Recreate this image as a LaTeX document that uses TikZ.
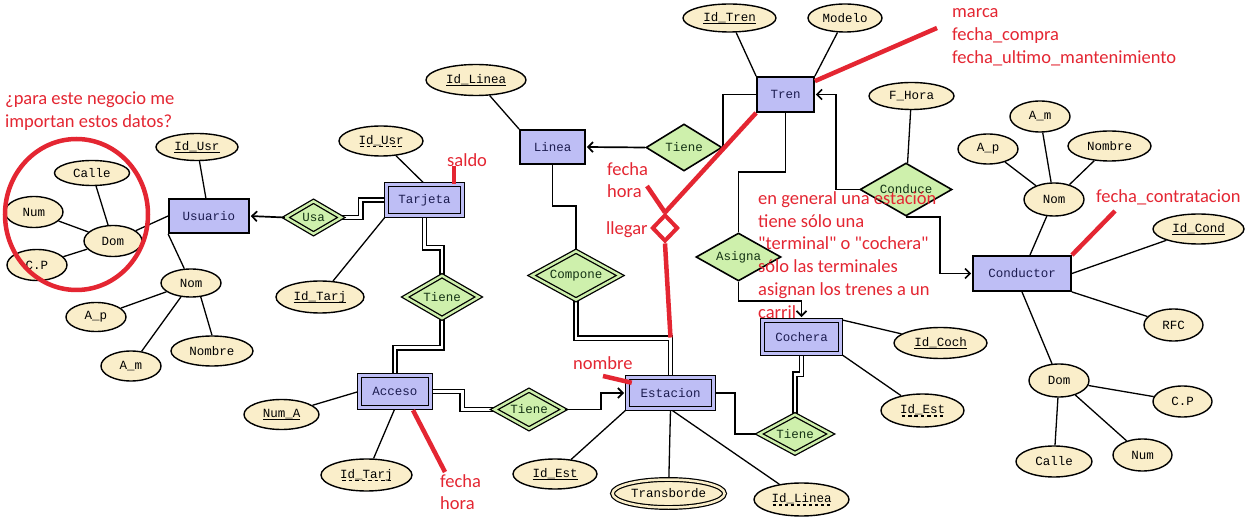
\documentclass[tikz,border=0pt]{standalone}
\usepackage{fontspec}
\usetikzlibrary{shapes.geometric,arrows.meta,calc}
\newfontfamily\monof{Liberation Mono}
\newfontfamily\annf{Carlito}
% solid underline for keys, dashed underline for partial keys
\newcommand\keyul[1]{{\setbox0=\hbox{#1}\rlap{\vrule height -1.6pt depth 3.0pt width \wd0}\box0}}
\newcommand\pkeyul[1]{{\setbox0=\hbox{#1}\rlap{\hbox to \wd0{\xleaders\hbox to 6pt{\hss\vrule height -1.6pt depth 3.0pt width 3.5pt\hss}\hfill}}\box0}}
\definecolor{entfill}{RGB}{190,190,245}
\definecolor{attrfill}{RGB}{250,238,202}
\definecolor{relfill}{RGB}{206,240,172}
\definecolor{enttext}{RGB}{28,28,80}
\definecolor{reltext}{RGB}{20,50,20}
\definecolor{annred}{RGB}{228,38,50}
\pgfdeclarelayer{bg}
\pgfsetlayers{bg,main}
\tikzset{
  lbl/.style={font=\monof\fontsize{12.5}{14}\selectfont},
  ent/.style={lbl, rectangle, draw, line width=1.8pt, fill=entfill, inner sep=0pt, text=enttext},
  went/.style={ent, line width=1.5pt, double=entfill, double distance=2.4pt},
  rel/.style={lbl, diamond, aspect=1.7, draw, line width=1.6pt, fill=relfill, inner sep=0pt, text=reltext},
  wrel/.style={rel, line width=1.3pt, double=relfill, double distance=2.4pt},
  attr/.style={lbl, ellipse, draw, line width=1.4pt, fill=attrfill, inner sep=0pt, text=black},
  mattr/.style={attr, line width=1.2pt, double=attrfill, double distance=2.5pt},
  conn/.style={line width=1.7pt},
  aconn/.style={line width=1.3pt},
  dbl/.style={line width=1.5pt, double=white, double distance=2.8pt},
  arr/.style={conn, -{Straight Barb[length=5pt,width=10pt]}},
  redl/.style={draw=annred, line width=4.5pt},
  ann/.style={font=\annf\fontsize{18.5}{23}\selectfont, text=annred, anchor=base west, inner sep=0pt},
}
\begin{document}
\begin{tikzpicture}[x=1pt,y=-1pt]
\begin{pgfonlayer}{bg}
  \fill[white] (0,0) rectangle (1248,521);
\end{pgfonlayer}
\useasboundingbox (0,0) rectangle (1248,521);

% ---------- entities ----------
\node[ent,  minimum width=80pt, minimum height=34pt] (usuario)   at (209,216)    {Usuario};
\node[went, minimum width=76pt, minimum height=31pt] (tarjeta)   at (424.5,200)  {Tarjeta};
\node[ent,  minimum width=65pt, minimum height=34pt] (linea)     at (552.5,147)  {Linea};
\node[ent,  minimum width=57pt, minimum height=35pt] (tren)      at (785.5,94.5) {Tren};
\node[ent,  minimum width=98pt, minimum height=35pt] (conductor) at (1022,273.5) {Conductor};
\node[went, minimum width=78pt, minimum height=33pt] (cochera)   at (801.5,337)  {Cochera};
\node[went, minimum width=86pt, minimum height=31pt] (estacion)  at (670.5,393)  {Estacion};
\node[went, minimum width=71pt, minimum height=32pt] (acceso)    at (395,391.5)  {Acceso};

% ---------- relationships ----------
\node[wrel, minimum width=56pt, minimum height=33pt] (usa)     at (313.5,217.5) {Usa};
\node[wrel, minimum width=74pt, minimum height=43pt] (tieneTA) at (442,297)     {Tiene};
\node[wrel, minimum width=70pt, minimum height=39pt] (tieneAE) at (529,409.5)   {Tiene};
\node[wrel, minimum width=72pt, minimum height=39pt] (tieneEC) at (795,434)     {Tiene};
\node[wrel, minimum width=89pt, minimum height=49pt] (compone) at (576,275.5)   {Compone};
\node[rel,  minimum width=76pt, minimum height=47pt] (tieneLT) at (684,147.5)   {Tiene};
\node[rel,  minimum width=85pt, minimum height=48pt] (asigna)  at (738.5,257)   {Asigna};
\node[rel,  minimum width=92pt, minimum height=53pt] (conduce) at (906,189.5)   {Conduce};

% ---------- attributes of Usuario ----------
\node[attr, minimum width=82pt, minimum height=27pt] (idusrU)  at (197,147) {\keyul{Id\_Usr}};
\node[attr, minimum width=75pt, minimum height=25pt] (calleU)  at (92,173)  {Calle};
\node[attr, minimum width=58pt, minimum height=31pt] (numU)    at (34,212)  {Num};
\node[attr, minimum width=58pt, minimum height=31pt] (domU)    at (113,241) {Dom};
\node[attr, minimum width=60pt, minimum height=31pt] (cpU)     at (37,265)  {C.P};
\node[attr, minimum width=60pt, minimum height=28pt] (nomU)    at (191,283) {Nom};
\node[attr, minimum width=60pt, minimum height=29pt] (apU)     at (96,317)  {A\_p};
\node[attr, minimum width=60pt, minimum height=30pt] (amU)     at (131,366) {A\_m};
\node[attr, minimum width=82pt, minimum height=30pt] (nombreU) at (212,351) {Nombre};

% ---------- attributes of Tarjeta and Acceso ----------
\node[attr, minimum width=84pt, minimum height=30pt] (idusrT)  at (381,141)     {\pkeyul{Id\_Usr}};
\node[attr, minimum width=88pt, minimum height=32pt] (idtarjT) at (320,297)     {\keyul{Id\_Tarj}};
\node[attr, minimum width=75pt, minimum height=30pt] (numA)    at (281.5,414.5) {\keyul{Num\_A}};
\node[attr, minimum width=91pt, minimum height=32pt] (idtarjA) at (366.5,475)   {\pkeyul{Id\_Tarj}};

% ---------- attributes of Linea, Tren, Conduce ----------
\node[attr, minimum width=100pt, minimum height=31pt] (idlineaL) at (476,80)     {\keyul{Id\_Linea}};
\node[attr, minimum width=93pt,  minimum height=28pt] (idtren)   at (729.5,18)   {\keyul{Id\_Tren}};
\node[attr, minimum width=74pt,  minimum height=28pt] (modelo)   at (845,18)     {Modelo};
\node[attr, minimum width=85pt,  minimum height=27pt] (fhora)    at (911.5,96)   {F\_Hora};

% ---------- attributes of Conductor ----------
\node[attr, minimum width=60pt, minimum height=33pt] (nomC)    at (1054,199.5)   {Nom};
\node[attr, minimum width=60pt, minimum height=31pt] (amC)     at (1040,116.5)   {A\_m};
\node[attr, minimum width=60pt, minimum height=30pt] (apC)     at (988,149)      {A\_p};
\node[attr, minimum width=83pt, minimum height=30pt] (nombreC) at (1109.5,146)   {Nombre};
\node[attr, minimum width=91pt, minimum height=30pt] (idcond)  at (1198.5,229)   {\keyul{Id\_Cond}};
\node[attr, minimum width=59pt, minimum height=32pt] (rfc)     at (1173.5,325)   {RFC};
\node[attr, minimum width=60pt, minimum height=33pt] (domC)    at (1059,380.5)   {Dom};
\node[attr, minimum width=59pt, minimum height=31pt] (cpC)     at (1182.5,401.5) {C.P};
\node[attr, minimum width=76pt, minimum height=31pt] (calleC)  at (1054,461.5)   {Calle};
\node[attr, minimum width=59pt, minimum height=32pt] (numC)    at (1142.5,455)   {Num};

% ---------- attributes of Cochera and Estacion ----------
\node[attr,  minimum width=93pt,  minimum height=31pt] (idcoch)     at (940.5,343)   {\keyul{Id\_Coch}};
\node[attr,  minimum width=83pt,  minimum height=33pt] (idestC)     at (922.5,410.5) {\pkeyul{Id\_Est}};
\node[attr,  minimum width=84pt,  minimum height=30pt] (idestE)     at (555,474)     {\keyul{Id\_Est}};
\node[mattr, minimum width=112pt, minimum height=28pt] (transborde) at (668.5,493.5) {Transborde};
\node[attr,  minimum width=95pt,  minimum height=33pt] (idlineaE)   at (801.5,499.5) {\pkeyul{Id\_Linea}};

% ---------- connectors (behind the shapes) ----------
\begin{pgfonlayer}{bg}
  % attribute links
  \draw[aconn] (usuario) -- (idusrU);
  \draw[aconn] (usuario.west) -- (domU);
  \draw[aconn] (usuario.south west) -- (nomU);
  \draw[aconn] (domU) -- (calleU);
  \draw[aconn] (domU) -- (numU);
  \draw[aconn] (domU) -- (cpU);
  \draw[aconn] (nomU) -- (apU);
  \draw[aconn] (nomU) -- (amU);
  \draw[aconn] (nomU.-55) -- (nombreU.north);
  \draw[aconn] (tarjeta.north) -- (idusrT);
  \draw[aconn] (tarjeta.south west) -- (idtarjT);
  \draw[aconn] (acceso.west) -- (numA);
  \draw[aconn] (acceso.south) -- (idtarjA);
  \draw[aconn] (linea.north west) -- (idlineaL);
  \draw[aconn] (tren.north west) -- (idtren);
  \draw[aconn] (tren.north east) -- (modelo);
  \draw[aconn] (fhora) -- (conduce);
  \draw[aconn] (conductor) -- (nomC);
  \draw[aconn] (nomC) -- (amC);
  \draw[aconn] (nomC) -- (apC);
  \draw[aconn] (nomC) -- (nombreC);
  \draw[aconn] (conductor.east) -- (idcond);
  \draw[aconn] (conductor.south east) -- (rfc);
  \draw[aconn] (conductor.south) -- (domC);
  \draw[aconn] (domC) -- (cpC);
  \draw[aconn] (domC) -- (numC);
  \draw[aconn] (domC) -- (calleC);
  \draw[aconn] (cochera.north east) -- (idcoch);
  \draw[aconn] (cochera.south east) -- (idestC);
  \draw[aconn] (estacion.south west) -- (idestE);
  \draw[aconn] (estacion.south) -- (transborde);
  \draw[aconn] (estacion.south) -- (idlineaE);
  % relationship links
  \draw[dbl] (tarjeta.west) -- ++(-25,0) |- (usa.east);
  \draw[dbl] (tarjeta.south) -- ++(0,31.5) -| (tieneTA.north);
  \draw[dbl] (tieneTA.south) -- ++(0,28.5) -| (acceso.north);
  \draw[dbl] (acceso.east) -- ++(31,0) |- (tieneAE.west);
  \draw[dbl] (compone.south) -- ++(0,37.5) -| (estacion.north);
  \draw[dbl] (cochera.south) -- ++(0,20) -| (tieneEC.north);
  \draw[conn] (tren.west) -| (tieneLT.east);
  \draw[conn] (linea.south) -- ++(0,41) -| (compone.north);
  \draw[conn] (tren.south) -- ++(0,59) -| (asigna.north);
  \draw[conn] (estacion.east) -- ++(21,0) |- (tieneEC.west);
\end{pgfonlayer}

% arrows into the entities
\draw[arr, shorten >=0.9pt] (usa.west) -- (usuario.east);
\draw[arr, shorten >=0.9pt] (tieneLT.west) -- (linea.east);
\draw[arr, shorten >=0.9pt] (conduce.west) -- ++(-23,0) |- (tren.east);
\draw[arr, shorten >=0.9pt] (conduce.south) -- ++(34,0) |- (conductor.west);
\draw[arr, shorten >=2.7pt] (tieneAE.east) -- ++(36,0) |- (estacion.west);
\draw[arr, shorten >=2.7pt] (asigna.south) -- ++(0,19) -| (cochera.north);

% ---------- red notes ----------
\draw[annred, line width=4.5pt] (76.5,214.5) ellipse (71.5 and 75.5);

\coordinate (saldoTop) at (454,166);
\draw[redl] (saldoTop |- tarjeta.north) -- (saldoTop);

\coordinate (accNote) at (445,472);
\draw[redl] ($(acceso.south)+(18,2)$) -- (accNote);

\coordinate (nomNote) at (603,376);
\draw[redl] ($(estacion.north west)+(5,6)$) -- (nomNote);

\node[diamond, draw=annred, line width=4pt, minimum width=26pt, minimum height=27pt, inner sep=0pt] (llegar) at (665,228) {};
\coordinate (jn) at (670.5,337.5);
\coordinate (fhNote) at (647,186);
\draw[redl] (jn) -- (llegar.south);
\draw[redl] (llegar.north) -- (tren.south west);
\draw[redl] (fhNote) -- (llegar.north);

\coordinate (trenNote) at (937,28);
\draw[redl] ($(tren.north east)+(0,5)$) -- (trenNote);

\coordinate (condNote) at (1115,211);
\draw[redl] (conductor.north east) -- (condNote);

\node[ann] (q1) at (5,105) {¿para este negocio me};
\node[ann] (q2) at (5,128) {importan estos datos?};
\node[ann] (saldo) at (447,167) {saldo};
\node[ann] (tr1) at (952,18) {marca};
\node[ann] (tr2) at (952,41) {fecha\_compra};
\node[ann] (tr3) at (952,64) {fecha\_ultimo\_mantenimiento};
\node[ann] (ll1) at (607,175.5) {fecha};
\node[ann] (ll2) at (607,198) {hora};
\node[ann] (ll3) at (606,235) {llegar};
\node[ann] (nom) at (573,370) {nombre};
\node[ann] (ac1) at (440,487) {fecha};
\node[ann] (ac2) at (440,509) {hora};
\node[ann] (fc) at (1096,203) {fecha\_contratacion};
\node[ann] (n1) at (758,205)   {en general una estación};
\node[ann] (n2) at (758,227.5) {tiene sólo una};
\node[ann] (n3) at (758,250)   {"terminal" o "cochera"};
\node[ann] (n4) at (758,273)   {sólo las terminales};
\node[ann] (n5) at (758,296)   {asignan los trenes a un};
\node[ann] (n6) at (758,318.5) {carril};
\end{tikzpicture}
\end{document}
